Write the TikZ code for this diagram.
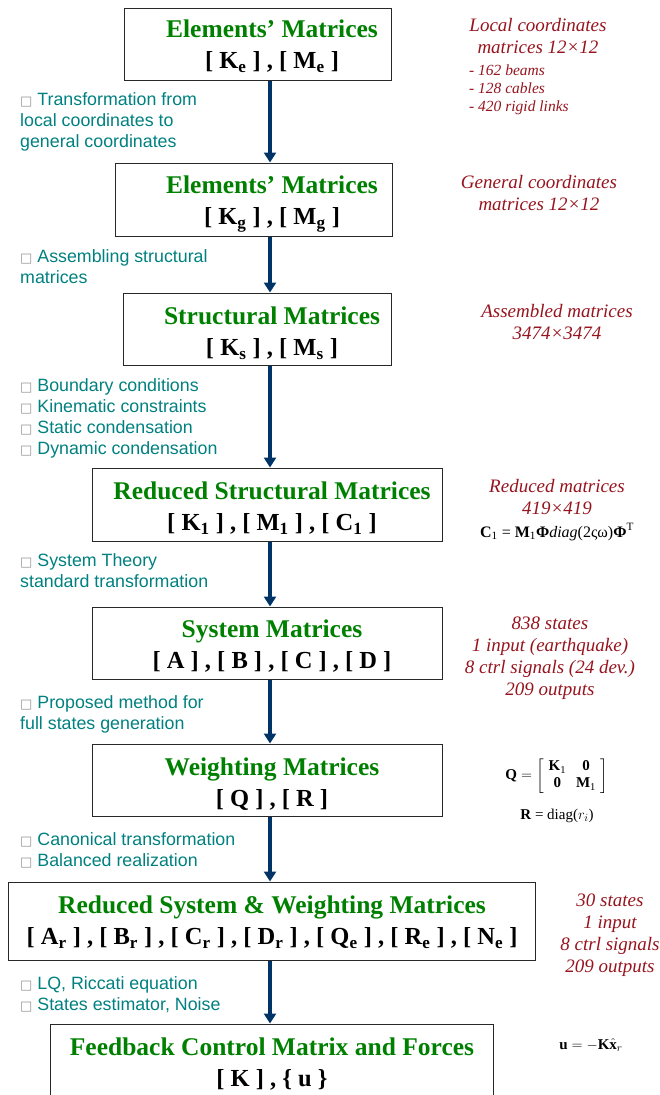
\documentclass[tikz,border=0pt]{standalone}
\usepackage{amsmath}
\usepackage{fontspec}
\setmainfont{Liberation Serif}
\newfontfamily\notefont{Liberation Sans}
\newfontfamily\symfont{DejaVu Sans}
\usepackage{xcolor}
\usepackage{tikz}
\usetikzlibrary{arrows.meta, positioning}
\definecolor{vertTitre}{RGB}{0, 128, 0}
\definecolor{bleuFleche}{RGB}{0, 51, 102}
\definecolor{tealNote}{RGB}{0, 128, 128}
\definecolor{rougeRem}{RGB}{150, 20, 30}
\definecolor{griBord}{RGB}{40, 40, 40}
\definecolor{griPuce}{RGB}{150, 150, 150}
\newcommand{\ttl}[1]{\textcolor{vertTitre}{#1}}
\newcommand{\mat}[1]{{\fontsize{24.5}{31}\selectfont\textcolor{black}{#1}}}
\newcommand{\sbb}[1]{\textsubscript{#1}}
\newcommand{\bul}{{\symfont\color{griPuce}\fontsize{13}{13}\selectfont □}\ }

\begin{document}
\begin{tikzpicture}[x=1pt, y=-1pt,
  matbox/.style={rectangle, draw=griBord, line width=1pt, inner sep=0pt},
  mattxt/.style={inner sep=0pt, align=center,
    font=\bfseries\fontsize{25.5}{31}\selectfont},
  flow/.style={line width=4pt, draw=bleuFleche,
    -{Triangle[length=10pt, width=12pt]}},
  note/.style={anchor=north west, inner sep=0pt, align=left, text=tealNote,
    font=\notefont\fontsize{17.8}{21}\selectfont},
  rem/.style={anchor=north, inner sep=0pt, align=center, text=rougeRem,
    font=\itshape\fontsize{19}{22}\selectfont},
  frm/.style={inner sep=0pt, font=\fontsize{15}{17}\selectfont},
]
\useasboundingbox (0,0) rectangle (659,1095);
\coordinate (ax) at (270,0);
\node[matbox, minimum width=267, minimum height=72] (elem)   at (257.5, 44) {};
\node[matbox, minimum width=277, minimum height=73] (elemg)  at (253.5, 199.5) {};
\node[matbox, minimum width=268, minimum height=72] (struc)  at (257, 329) {};
\node[matbox, minimum width=350, minimum height=73] (reduc)  at (267, 504.5) {};
\node[matbox, minimum width=350, minimum height=72] (syst)   at (267, 643) {};
\node[matbox, minimum width=350, minimum height=72] (weig)   at (267, 780) {};
\node[matbox, minimum width=527, minimum height=78] (redsys) at (271.5, 921) {};
\node[matbox, minimum width=443, minimum height=73] (feed)   at (271.5, 1060.5) {};
\node[mattxt] (elem-t)   at (272, 46)
  {\ttl{Elements’ Matrices}\\\mat{[ K\sbb{e} ] , [ M\sbb{e} ]}};
\node[mattxt] (elemg-t)  at (272, 204)
  {\ttl{Elements’ Matrices}\\\mat{[ K\sbb{g} ] , [ M\sbb{g} ]}};
\node[mattxt] (struc-t)  at (272, 333)
  {\ttl{Structural Matrices}\\\mat{[ K\sbb{s} ] , [ M\sbb{s} ]}};
\node[mattxt] (reduc-t)  at (272, 508)
  {\ttl{Reduced Structural Matrices}\\\mat{[ K\sbb{1} ] , [ M\sbb{1} ] , [ C\sbb{1} ]}};
\node[mattxt] (syst-t)   at (272, 646)
  {\ttl{System Matrices}\\\mat{[ A ] , [ B ] , [ C ] , [ D ]}};
\node[mattxt] (weig-t)   at (272, 784)
  {\ttl{Weighting Matrices}\\\mat{[ Q ] , [ R ]}};
\node[mattxt] (redsys-t) at (272, 922)
  {\ttl{Reduced System \& Weighting Matrices}\\\mat{[ A\sbb{r} ] , [ B\sbb{r} ] , [ C\sbb{r} ] , [ D\sbb{r} ] , [ Q\sbb{e} ] , [ R\sbb{e} ] , [ N\sbb{e} ]}};
\node[mattxt] (feed-t)   at (272, 1064)
  {\ttl{Feedback Control Matrix and Forces}\\\mat{[ K ] , \{ u \}}};
\draw[flow] (elem.south -| ax)   -- (elemg.north -| ax);
\draw[flow] (elemg.south -| ax)  -- (struc.north -| ax);
\draw[flow] (struc.south -| ax)  -- (reduc.north -| ax);
\draw[flow] (reduc.south -| ax)  -- (syst.north -| ax);
\draw[flow] (syst.south -| ax)   -- (weig.north -| ax);
\draw[flow] (weig.south -| ax)   -- (redsys.north -| ax);
\draw[flow] (redsys.south -| ax) -- (feed.north -| ax);
\node[note] (ntrans) at (20, 92)
  {\bul Transformation from\\local coordinates to\\general coordinates};
\node[note] (nassem) at (20, 249)
  {\bul Assembling structural\\matrices};
\node[note] (nbound) at (20, 378)
  {\bul Boundary conditions\\\bul Kinematic constraints\\\bul Static condensation\\\bul Dynamic condensation};
\node[note] (nsyst)  at (20, 553)
  {\bul System Theory\\standard transformation};
\node[note] (nprop)  at (20, 695)
  {\bul Proposed method for\\full states generation};
\node[note] (ncano)  at (20, 832)
  {\bul Canonical transformation\\\bul Balanced realization};
\node[note] (nlq)    at (20, 976)
  {\bul LQ, Riccati equation\\\bul States estimator, Noise};
\node[rem] (rloc) at (538, 18) {Local coordinates\\matrices 12×12};
\node[rem, anchor=north west, align=left,
  font=\itshape\fontsize{15.5}{18}\selectfont] (rlist) at (469, 65)
  {- 162 beams\\- 128 cables\\- 420 rigid links};
\node[rem] (rgen)  at (539, 175) {General coordinates\\matrices 12×12};
\node[rem] (rass)  at (557, 304) {Assembled matrices\\3474×3474};
\node[rem] (rred)  at (557, 479) {Reduced matrices\\419×419};
\node[frm, font=\fontsize{16}{18}\selectfont] (fcdamp) at (557, 532)
  {\textbf{C}\sbb{1} = \textbf{M}\sbb{1}\textbf{Φ}\textit{diag}(2ςω)\textbf{Φ}\textsuperscript{T}};
\node[rem] (rsys)  at (550, 617)
  {838 states\\1 input (earthquake)\\8 ctrl signals (24 dev.)\\209 outputs};
\node[frm] (fq) at (557, 776)
  {$\textbf{Q} = \left[\begin{array}{cc}\textbf{K}\sbb{1} & \textbf{0}\\ \textbf{0} & \textbf{M}\sbb{1}\end{array}\right]$};
\node[frm] (fr) at (557, 816) {\textbf{R} = diag($r_i$)};
\node[rem] (rrsys) at (610, 894)
  {30 states\\1 input\\8 ctrl signals\\209 outputs};
\node[frm] (fu) at (591, 1045) {$\mathbf{u} = -\mathbf{K}\hat{\mathbf{x}}_{r}$};
\end{tikzpicture}
\end{document}
